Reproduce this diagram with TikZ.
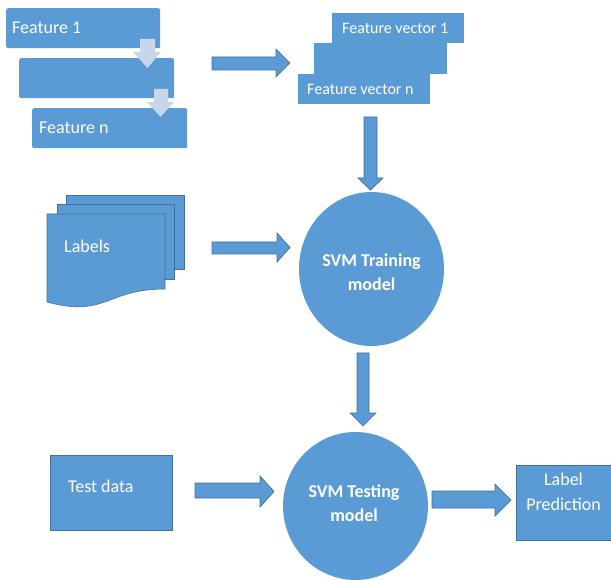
\documentclass[tikz,border=0pt]{standalone}
\usepackage{fontspec}
\setmainfont{Carlito}
\usetikzlibrary{shapes.geometric}
\definecolor{ob}{HTML}{5B9BD5}
\definecolor{obd}{HTML}{41719C}
\definecolor{lt}{RGB}{200,214,234}
\tikzset{
 fbox/.style={fill=ob, draw=none, rounded corners=2pt, inner sep=0pt, anchor=north west},
 vbox/.style={fill=ob, draw=none, inner sep=0pt, anchor=north west},
 pbox/.style={fill=ob, draw=obd, line width=0.6pt, inner sep=0pt, anchor=north west},
 docpage/.style={fill=ob, draw=obd, line width=0.6pt},
 barrow/.style={fill=ob, draw=obd, line width=0.7pt, line join=miter},
 larrow/.style={fill=lt, draw=none},
 txt/.style={text=white, font=\fontsize{18}{21}\selectfont, inner sep=0pt},
 stxt/.style={text=white, font=\fontsize{16}{19}\selectfont, inner sep=0pt},
 btxt/.style={text=white, font=\bfseries\fontsize{18}{24}\selectfont, align=center, inner sep=0pt},
 svm/.style={ellipse, fill=ob, draw=none, minimum width=145pt},
}
\begin{document}
\begin{tikzpicture}[x=1pt,y=-1pt]
\useasboundingbox (0,0) rectangle (611,580);
% feature boxes
\node[fbox, minimum width=154pt, minimum height=40pt] (f1) at (6,8) {};
\node[fbox, minimum width=155pt, minimum height=40pt] (f2) at (19,58) {};
\node[fbox, minimum width=155pt, minimum height=40pt] (fn) at (32,108) {};
\node[txt, anchor=west] (f1t) at (12,28) {Feature 1};
\node[txt, anchor=west] (fnt) at (39,128) {Feature n};
% light arrows
\fill[larrow] (140,39) -- (155,39) -- (155,52) -- (161,52) -- (147.5,68) -- (133,52) -- (140,52) -- cycle;
\fill[larrow] (154,89) -- (168,89) -- (168,102) -- (174,102) -- (160.5,117) -- (147,102) -- (154,102) -- cycle;
% arrow to feature vectors
\draw[barrow] (212,57) -- (276,57) -- (276,49) -- (290,63) -- (276,77) -- (276,70) -- (212,70) -- cycle;
% feature vector boxes
\node[vbox, minimum width=132pt, minimum height=30pt] (v1) at (332,13) {};
\node[vbox, minimum width=133pt, minimum height=31pt] (v2) at (314,43) {};
\node[vbox, minimum width=132pt, minimum height=30pt] (vn) at (298,74) {};
\node[stxt, anchor=west] (v1t) at (342,28) {Feature vector 1};
\node[stxt, anchor=west] (vnt) at (307,89) {Feature vector n};
% down arrow to training
\draw[barrow] (364,117) -- (377,117) -- (377,178) -- (383,178) -- (370.5,190) -- (358,178) -- (364,178) -- cycle;
% labels multi-document
\draw[docpage] (66,195) rectangle (184,269);
\draw[docpage] (57,204) rectangle (174,279);
\draw[docpage] (47,214) -- (165,214) -- (165,289) .. controls (106,289) and (106,318) .. (47,302) -- cycle;
\node[txt, anchor=west] (lab) at (64,246) {Labels};
% arrow labels -> training
\draw[barrow] (212,242) -- (277,242) -- (277,233) -- (290,247.5) -- (277,262) -- (277,254) -- (212,254) -- cycle;
% training circle
\node[svm, minimum height=154pt] (train) at (371.5,269) {};
\node[btxt] (traint) at (371.5,272) {SVM Training\\model};
% arrow training -> testing
\draw[barrow] (357,353) -- (369,353) -- (369,413) -- (376,413) -- (363,426) -- (350,413) -- (357,413) -- cycle;
% test data
\node[pbox, minimum width=122pt, minimum height=75pt] (test) at (50,455) {};
\node[txt, anchor=west] (testt) at (68,486) {Test data};
% arrow test -> testing
\draw[barrow] (195,483) -- (260,483) -- (260,476) -- (274,491.5) -- (260,507) -- (260,498) -- (195,498) -- cycle;
% testing circle
\node[svm, minimum height=148pt] (testing) at (355.5,506) {};
\node[btxt] (testingt) at (354,503) {SVM Testing\\model};
% arrow testing -> label prediction
\draw[barrow] (432,491) -- (495,491) -- (495,484) -- (511,500) -- (495,516) -- (495,508) -- (432,508) -- cycle;
% label prediction
\node[pbox, minimum width=96pt, minimum height=75pt] (pred) at (516,465) {};
\node[txt, align=center, font=\fontsize{18}{25}\selectfont] (predt) at (563.5,492) {Label\\Prediction};
\end{tikzpicture}
\end{document}
